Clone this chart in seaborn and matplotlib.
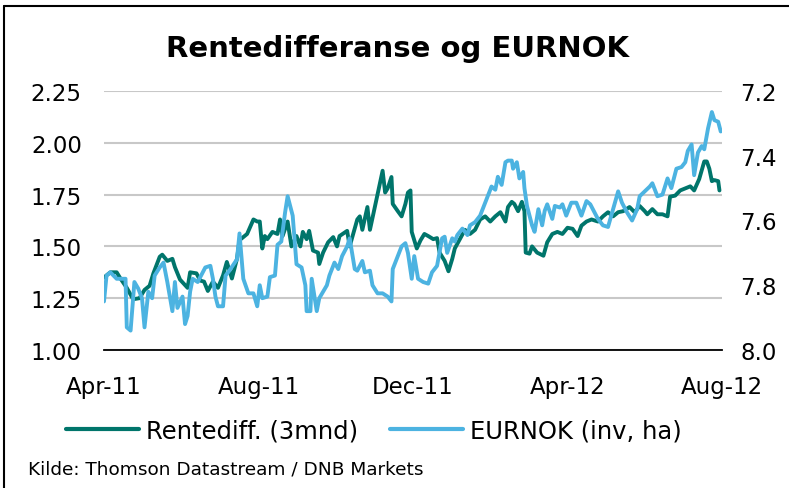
import pandas as pd
import matplotlib.pyplot as plt
import matplotlib.dates as mdates
from matplotlib.lines import Line2D
from matplotlib.ticker import FormatStrFormatter
import seaborn as sns

# Rentediff (3mnd), left axis
rd_dates = ["2011-04-01","2011-04-06","2011-04-11","2011-04-14","2011-04-19","2011-04-24","2011-04-29","2011-05-03",
            "2011-05-07","2011-05-10","2011-05-15","2011-05-17","2011-05-21","2011-05-25","2011-05-27","2011-05-31",
            "2011-06-03","2011-06-06","2011-06-08","2011-06-13","2011-06-16","2011-06-19","2011-06-22","2011-06-26",
            "2011-06-30","2011-07-04","2011-07-07","2011-07-11","2011-07-15","2011-07-17","2011-07-23","2011-07-28",
            "2011-07-31","2011-08-02","2011-08-04","2011-08-06","2011-08-08","2011-08-12","2011-08-16","2011-08-18",
            "2011-08-20","2011-08-24","2011-08-27","2011-08-31","2011-09-03","2011-09-05","2011-09-08","2011-09-10",
            "2011-09-13","2011-09-17","2011-09-18","2011-09-21","2011-09-25","2011-09-29","2011-10-02","2011-10-04",
            "2011-10-10","2011-10-12","2011-10-18","2011-10-20","2011-10-22","2011-10-26","2011-10-28","2011-11-01",
            "2011-11-03","2011-11-07","2011-11-09","2011-11-11","2011-11-14","2011-11-15","2011-11-19","2011-11-22",
            "2011-11-25","2011-11-27","2011-11-29","2011-11-30","2011-12-04","2011-12-07","2011-12-10","2011-12-13",
            "2011-12-17","2011-12-20","2011-12-22","2011-12-26","2011-12-29","2012-01-01","2012-01-03","2012-01-07",
            "2012-01-11","2012-01-15","2012-01-19","2012-01-23","2012-01-27","2012-01-31","2012-02-04","2012-02-08",
            "2012-02-12","2012-02-14","2012-02-17","2012-02-19","2012-02-22","2012-02-25","2012-02-27","2012-02-28",
            "2012-03-02","2012-03-04","2012-03-08","2012-03-13","2012-03-16","2012-03-20","2012-03-24","2012-03-28",
            "2012-04-01","2012-04-05","2012-04-09","2012-04-12","2012-04-16","2012-04-20","2012-04-25","2012-04-29",
            "2012-05-03","2012-05-07","2012-05-11","2012-05-15","2012-05-20","2012-05-24","2012-05-28","2012-06-01",
            "2012-06-03","2012-06-07","2012-06-11","2012-06-15","2012-06-19","2012-06-21","2012-06-25","2012-06-29",
            "2012-07-03","2012-07-07","2012-07-10","2012-07-14","2012-07-18","2012-07-20","2012-07-22","2012-07-24",
            "2012-07-26","2012-07-29","2012-07-30"]
rd_values = [1.35,1.375,1.375,1.345,1.30,1.245,1.25,1.29,1.31,1.37,1.45,1.46,1.43,1.44,1.40,1.34,
             1.32,1.30,1.375,1.37,1.335,1.33,1.285,1.33,1.30,1.36,1.425,1.345,1.44,1.53,1.56,1.63,
             1.62,1.62,1.49,1.55,1.535,1.57,1.56,1.63,1.55,1.62,1.50,1.55,1.50,1.57,1.535,1.575,
             1.48,1.47,1.415,1.47,1.52,1.545,1.50,1.55,1.575,1.50,1.63,1.645,1.58,1.69,1.58,1.695,
             1.75,1.865,1.76,1.78,1.835,1.705,1.67,1.645,1.705,1.76,1.77,1.57,1.49,1.53,1.56,1.55,
             1.535,1.54,1.47,1.43,1.38,1.44,1.49,1.535,1.58,1.56,1.58,1.63,1.645,1.62,1.645,1.665,
             1.62,1.69,1.715,1.705,1.67,1.715,1.67,1.47,1.465,1.50,1.47,1.455,1.52,1.56,1.57,1.56,
             1.59,1.585,1.55,1.60,1.62,1.63,1.62,1.645,1.665,1.645,1.665,1.67,1.69,1.665,1.695,1.67,
             1.655,1.68,1.655,1.655,1.645,1.74,1.745,1.77,1.78,1.79,1.77,1.825,1.91,1.91,1.875,1.815,
             1.82,1.815,1.77]

# EURNOK, right axis (inverted)
ek_dates = ["2011-04-01","2011-04-03","2011-04-06","2011-04-11","2011-04-18","2011-04-19","2011-04-22","2011-04-25",
            "2011-04-28","2011-05-01","2011-05-03","2011-05-06","2011-05-09","2011-05-11","2011-05-15","2011-05-18",
            "2011-05-21","2011-05-25","2011-05-27","2011-05-29","2011-06-02","2011-06-04","2011-06-06","2011-06-08",
            "2011-06-10","2011-06-14","2011-06-20","2011-06-24","2011-06-26","2011-06-28","2011-06-30","2011-07-04",
            "2011-07-06","2011-07-09","2011-07-15","2011-07-17","2011-07-20","2011-07-24","2011-07-28","2011-07-31",
            "2011-08-02","2011-08-04","2011-08-08","2011-08-10","2011-08-14","2011-08-16","2011-08-19","2011-08-22",
            "2011-08-24","2011-08-28","2011-08-31","2011-09-04","2011-09-07","2011-09-08","2011-09-11","2011-09-12",
            "2011-09-16","2011-09-18","2011-09-24","2011-09-26","2011-09-30","2011-10-03","2011-10-06","2011-10-10",
            "2011-10-12","2011-10-16","2011-10-18","2011-10-22","2011-10-24","2011-10-28","2011-10-30","2011-11-03",
            "2011-11-07","2011-11-11","2011-11-14","2011-11-15","2011-11-18","2011-11-22","2011-11-25","2011-11-27",
            "2011-11-30","2011-12-02","2011-12-05","2011-12-09","2011-12-13","2011-12-16","2011-12-20","2011-12-24",
            "2011-12-26","2011-12-28","2012-01-01","2012-01-03","2012-01-05","2012-01-09","2012-01-13","2012-01-15",
            "2012-01-19","2012-01-23","2012-01-25","2012-01-29","2012-02-01","2012-02-04","2012-02-06","2012-02-09",
            "2012-02-12","2012-02-14","2012-02-17","2012-02-18","2012-02-21","2012-02-23","2012-02-26","2012-02-27",
            "2012-02-29","2012-03-04","2012-03-06","2012-03-09","2012-03-12","2012-03-14","2012-03-16","2012-03-20",
            "2012-03-22","2012-03-26","2012-03-28","2012-03-31","2012-04-04","2012-04-08","2012-04-12","2012-04-16",
            "2012-04-19","2012-04-21","2012-04-25","2012-04-29","2012-05-03","2012-05-07","2012-05-11","2012-05-14",
            "2012-05-18","2012-05-22","2012-05-26","2012-05-28","2012-06-01","2012-06-05","2012-06-07","2012-06-11",
            "2012-06-15","2012-06-19","2012-06-22","2012-06-26","2012-06-30","2012-07-03","2012-07-05","2012-07-08",
            "2012-07-10","2012-07-13","2012-07-16","2012-07-18","2012-07-21","2012-07-24","2012-07-26","2012-07-29",
            "2012-07-31"]
ek_values = [7.85,7.77,7.76,7.78,7.78,7.93,7.94,7.79,7.81,7.84,7.93,7.82,7.84,7.77,7.745,7.73,
             7.79,7.88,7.79,7.87,7.835,7.92,7.895,7.82,7.78,7.79,7.745,7.74,7.78,7.835,7.865,7.865,
             7.77,7.755,7.72,7.64,7.78,7.825,7.825,7.865,7.80,7.84,7.835,7.775,7.77,7.675,7.665,7.575,
             7.525,7.585,7.735,7.745,7.80,7.88,7.88,7.78,7.88,7.84,7.80,7.77,7.73,7.75,7.71,7.68,
             7.655,7.75,7.755,7.725,7.76,7.755,7.80,7.825,7.825,7.835,7.85,7.75,7.72,7.68,7.67,7.70,
             7.78,7.71,7.78,7.79,7.795,7.76,7.74,7.655,7.65,7.70,7.655,7.665,7.645,7.625,7.645,7.615,
             7.605,7.585,7.565,7.525,7.495,7.505,7.465,7.49,7.42,7.415,7.415,7.44,7.42,7.47,7.45,7.50,
             7.555,7.615,7.635,7.565,7.615,7.57,7.55,7.595,7.555,7.56,7.55,7.585,7.545,7.545,7.585,7.54,
             7.55,7.565,7.595,7.615,7.62,7.565,7.51,7.545,7.575,7.60,7.565,7.525,7.51,7.495,7.485,7.525,
             7.52,7.47,7.50,7.44,7.435,7.42,7.385,7.365,7.46,7.39,7.37,7.38,7.315,7.265,7.29,7.295,
             7.325]

x_label_dates = ["2011-04-01", "2011-08-01", "2011-12-01", "2012-04-01", "2012-08-01"]
x_minor_dates = ["2011-07-01", "2011-10-01", "2012-01-01", "2012-07-01"]
left_ticks = [1.00, 1.25, 1.50, 1.75, 2.00, 2.25]
right_ticks = [7.2, 7.4, 7.6, 7.8, 8.0]

GREEN = '#00756b'
BLUE = '#4cb3e1'

sns.set_style('white')
plt.rcParams['font.family'] = ['DejaVu Sans']
plt.rcParams['text.color'] = 'black'
plt.rcParams['xtick.color'] = 'black'
plt.rcParams['ytick.color'] = 'black'

df_rd = pd.DataFrame({'date': pd.to_datetime(rd_dates), 'value': rd_values})
df_ek = pd.DataFrame({'date': pd.to_datetime(ek_dates), 'value': ek_values})

fig = plt.figure(figsize=(7.89, 4.89), dpi=100)
ax = fig.add_axes([104/789, 1-351/489, 618/789, 259/489])
ax2 = ax.twinx()

sns.lineplot(data=df_rd, x='date', y='value', ax=ax, color=GREEN, linewidth=2.8,
             estimator=None, legend=False)
sns.lineplot(data=df_ek, x='date', y='value', ax=ax2, color=BLUE, linewidth=2.8,
             estimator=None, legend=False)

ax.set_xlim(pd.Timestamp(x_label_dates[0]), pd.Timestamp(x_label_dates[-1]))
ax.set_ylim(1.0, 2.25)
ax.set_yticks(left_ticks)
ax.yaxis.set_major_formatter(FormatStrFormatter('%.2f'))
ax2.set_ylim(8.0, 7.2)
ax2.set_yticks(right_ticks)
ax2.yaxis.set_major_formatter(FormatStrFormatter('%.1f'))

ax.set_xticks(pd.to_datetime(x_label_dates))
ax.set_xticks(pd.to_datetime(x_minor_dates), minor=True)
ax.xaxis.set_major_formatter(mdates.DateFormatter('%b-%y'))

ax.grid(axis='y', color='#c8c8c8', linewidth=1.5)
ax.grid(axis='x', visible=False)
ax.set_axisbelow(True)
for a in (ax, ax2):
    a.set_xlabel('')
    a.set_ylabel('')
    for s in ('top', 'left', 'right'):
        a.spines[s].set_visible(False)
ax2.spines['bottom'].set_visible(False)
ax.spines['bottom'].set_color('black')
ax.spines['bottom'].set_linewidth(1.3)

ax.tick_params(axis='x', which='major', direction='in', length=4, width=1.2, color='black',
               pad=18, labelsize=16.5, labelcolor='black')
ax.tick_params(axis='x', which='minor', direction='in', length=2, width=1.2, color='black')
ax.tick_params(axis='y', length=0, pad=16, labelsize=16.5, labelcolor='black')
ax2.tick_params(axis='y', length=0, pad=13, labelsize=16.5, labelcolor='black')

fig.text(398/789, 1-57/489, 'Rentedifferanse og EURNOK', ha='center', va='baseline',
         fontsize=21, fontweight='bold', color='black')

handles = [Line2D([], [], color=GREEN, linewidth=3), Line2D([], [], color=BLUE, linewidth=3)]
fig.legend(handles, ['Rentediff. (3mnd)', 'EURNOK (inv, ha)'], loc='center',
           bbox_to_anchor=(374/789, 1-432/489), ncol=2, frameon=False, fontsize=17.5,
           handlelength=3.0, handletextpad=0.3, columnspacing=1.3)

fig.text(28/789, 1-470/489, 'Kilde: Thomson Datastream / DNB Markets', ha='left', va='center',
         fontsize=13.3, color='black')

# frame, cut off at right and bottom
fig.add_artist(Line2D([4/789, 1.0], [1-7/489, 1-7/489], color='black', linewidth=1.5,
                      transform=fig.transFigure))
fig.add_artist(Line2D([4/789, 4/789], [0.0, 1-7/489], color='black', linewidth=1.5,
                      transform=fig.transFigure))

fig.savefig('out.png', dpi=100)
